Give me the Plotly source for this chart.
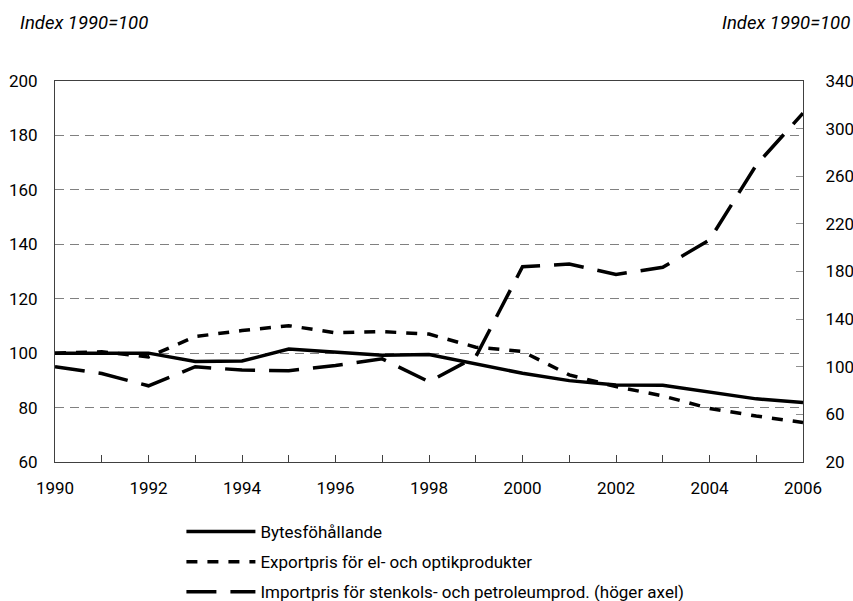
import plotly.graph_objects as go

# Data
years = list(range(1990, 2007))
bytesforhallande = [100, 100, 100, 96.9, 97.1, 101.5, 100.3, 99.2, 99.5,
                    96.0, 92.6, 89.9, 88.3, 88.2, 85.7, 83.2, 81.9]
exportpris = [100, 100.5, 98.6, 106.1, 108.3, 110.1, 107.5, 107.9, 107.0,
              102.2, 100.6, 92.0, 87.7, 84.3, 79.7, 76.9, 74.5]
importpris = [100, 94.3, 84.0, 100.0, 97.2, 96.7, 101.0, 106.6, 87.4,
              108.4, 184.0, 186.3, 177.6, 183.5, 206.5, 269.4, 313.0]

names = ["Bytesföhållande",
         "Exportpris för el- och optikprodukter",
         "Importpris för stenkols- och petroleumprod. (höger axel)"]

FONT = "Roboto, Liberation Sans, sans-serif"
AXIS = "#404040"

fig = go.Figure()
fig.add_trace(go.Scatter(x=years, y=bytesforhallande, name=names[0], mode="lines",
                         legendgroup="a",
                         line=dict(color="black", width=3.5)))
fig.add_trace(go.Scatter(x=years, y=exportpris, name=names[1], mode="lines",
                         legendgroup="b",
                         line=dict(color="black", width=3.5, dash="11px,10px")))
fig.add_trace(go.Scatter(x=years, y=importpris, name=names[2], mode="lines", yaxis="y2",
                         legendgroup="c",
                         line=dict(color="black", width=3.5, dash="30px,14px")))

fig.update_layout(
    width=853, height=601,
    margin=dict(l=55, r=50, t=81, b=139),
    paper_bgcolor="white", plot_bgcolor="white",
    font=dict(family=FONT, size=17, color="black"),
    showlegend=True,
    legend=dict(x=0.169, xref="paper", y=0.1448, yref="container",
                xanchor="left", yanchor="top",
                font=dict(size=17), itemwidth=69, tracegroupgap=5,
                bgcolor="rgba(0,0,0,0)"),
    xaxis=dict(range=[1990, 2006], dtick=2, tick0=1990, showgrid=False,
               ticks="inside", ticklen=7, tickcolor=AXIS,
               minor=dict(dtick=1, ticks="inside", ticklen=7, tickcolor=AXIS),
               showline=True, linecolor=AXIS, linewidth=1, mirror=True,
               zeroline=False, ticklabelstandoff=11, automargin=False),
    yaxis=dict(range=[60, 200], dtick=20, showgrid=True, gridcolor="#808080",
               griddash="9px,6px", gridwidth=1, ticks="",
               showline=True, linecolor=AXIS, linewidth=1,
               zeroline=False, ticklabelstandoff=13, automargin=False),
    yaxis2=dict(range=[20, 340], dtick=40, tick0=20, overlaying="y", side="right",
                showgrid=False, ticks="inside", ticklen=7, tickcolor="#909090",
                showline=True, linecolor=AXIS, linewidth=1, zeroline=False,
                ticklabelstandoff=18, automargin=False),
    annotations=[
        dict(text="<i>Index 1990=100</i>", xref="paper", yref="paper",
             x=-0.0495, y=1.152, xanchor="left", yanchor="middle",
             showarrow=False, font=dict(size=18.5)),
        dict(text="<i>Index 1990=100</i>", xref="paper", yref="paper",
             x=1.0655, y=1.152, xanchor="right", yanchor="middle",
             showarrow=False, font=dict(size=18.5)),
    ],
)

# drop the default 8px body margin so the figure fills the window
fig.write_html("out.html", config={"displayModeBar": False},
               post_script="document.body.style.margin='0';")
